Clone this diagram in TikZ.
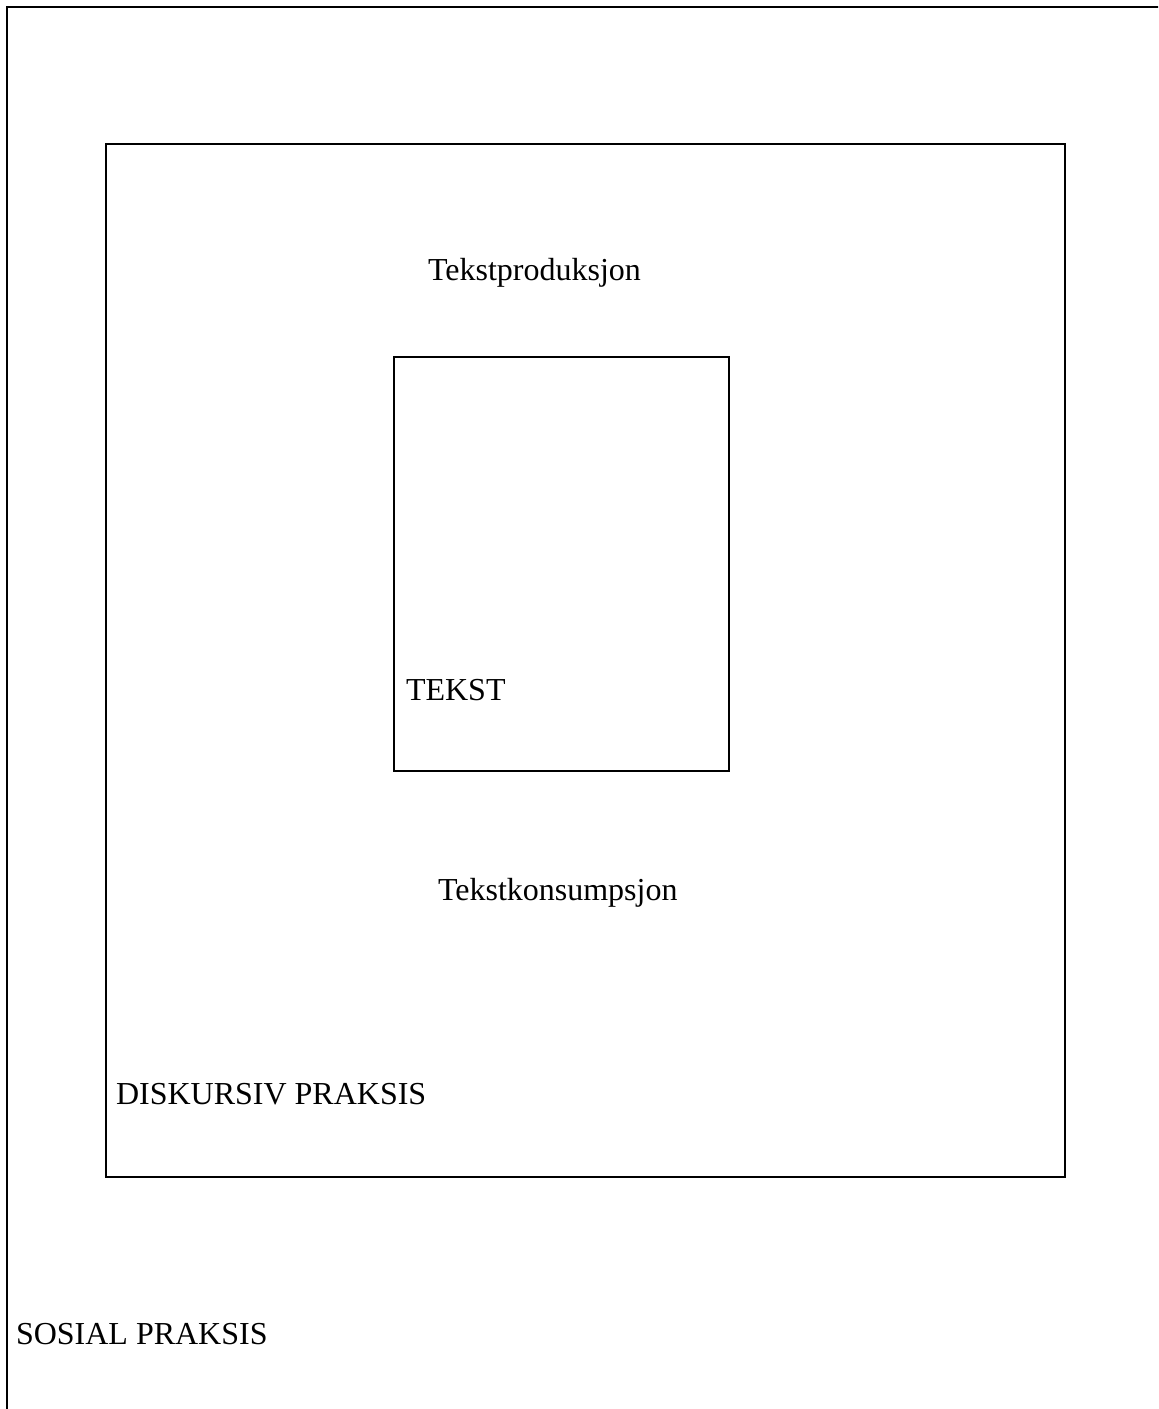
\documentclass[tikz,border=0pt]{standalone}
\usepackage{fontspec}
\setmainfont{Liberation Serif}
\usepackage{tikz}
\usetikzlibrary{positioning}

\begin{document}
\begin{tikzpicture}[
  x=0.375pt, y=-0.375pt,
  every node/.style={font=\fontsize{12}{14}\selectfont},
  frame/.style={draw=black, line width=0.65pt, rectangle, inner sep=0pt, outer sep=0pt},
  lbl/.style={anchor=base west, inner sep=0pt, outer sep=0pt}
]
\useasboundingbox (0,0) rectangle (1158,1409);
\clip (0,0) rectangle (1158,1409);

% Outer frame: social practice (runs off the page right and below)
\node[frame, anchor=north west, minimum width=450pt, minimum height=544pt] (sosial) at (7,7) {};

% Middle frame: discursive practice
\node[frame, minimum width=359.6pt, minimum height=387.4pt] (diskurs) at (585.5,660.5) {};

% Inner frame: text
\node[frame, minimum width=125.6pt, minimum height=155.3pt] (tekst) at (561.5,564) {};

% Labels
\node[lbl] (prod) at (428,280) {Tekstproduksjon};
\node[lbl] (tekstlbl) at (406,700) {TEKST};
\node[lbl] (kons) at (438,900) {Tekstkonsumpsjon};
\node[lbl] (disklbl) at (116,1104) {DISKURSIV PRAKSIS};
\node[lbl] (soslbl) at (16,1344) {SOSIAL PRAKSIS};
\end{tikzpicture}
\end{document}
